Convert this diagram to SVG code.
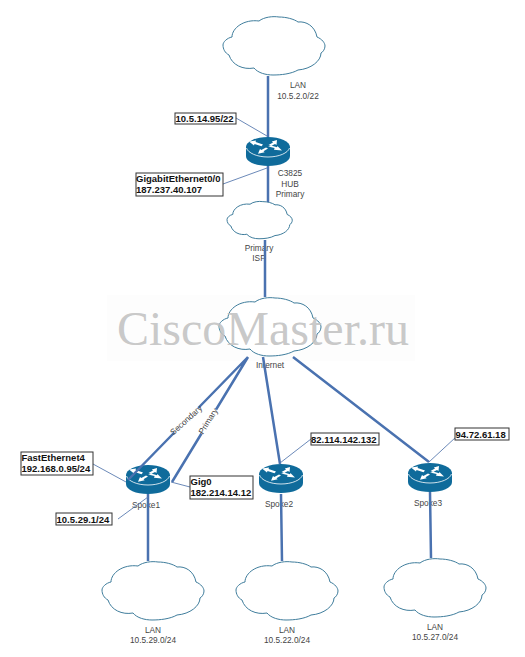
<svg xmlns="http://www.w3.org/2000/svg" width="525" height="657" viewBox="0 0 525 657">
<style>
text{font-family:"Liberation Sans",Arial,sans-serif}
.t{font-size:8.3px;fill:#444;text-anchor:middle}
.b{font-size:9.5px;font-weight:bold;fill:#111}
.box{fill:#fff;stroke:#333;stroke-width:1}
.thick{stroke:#4a72b0;stroke-width:2.5;fill:none}
.thin{stroke:#5a7cb0;stroke-width:.9;fill:none}
.cloud{fill:#fff;stroke:#3f7d9c;stroke-width:1;vector-effect:non-scaling-stroke}
</style>
<defs>
<path id="cl" class="cloud" d="M36 5C41 1 50 0 56 1C63 1 71 3 75 6C83 5 92 10 94 21C99 23 102 27 102 30C102 33 100 36 98 37C98 45 88 53 75 54C68 58 58 59 50 59C43 59 35 57 31 52C20 54 9 49 6 39C2 37 0 33 0 29C0 26 4 22 9 21C9 12 21 3 36 5Z"/>
<g id="rt">
<path d="M0 10V19C0 25 10 29 22 29S44 25 44 19V10Z" fill="#0f6b9b"/>
<ellipse cx="22" cy="10" rx="22" ry="10" fill="#0f6b9b"/>
<path d="M0.5 11C2 16 11 20 22 20S42 16 43.500 11" fill="none" stroke="#fff" stroke-width=".8"/>
<path d="M3 4.500L10 3.500L9.600 5L17 7.500L15.500 9.200L8.500 7L8 8.500Z M31 3L30.500 8L29 7L25 9L22.500 8L27 5.500L25.800 4.600Z M36 13.500L28 12.800L28.600 11L22 9.500L26 8.800L31 10.200L31.400 9Z M12 16.800L14 12L15.300 13L20 10.500L22 11.500L17.500 14.300L18.700 15.300Z" fill="#fff"/>
</g>
</defs>
<rect width="525" height="657" fill="#fff"/>
<rect x="107" y="295" width="308" height="66" fill="#fdfdfd"/>
<g id="cloud-lan-hub"><use href="#cl" transform="translate(223 16)"/><text class="t" x="298" y="88">LAN</text><text class="t" x="298" y="99">10.5.2.0/22</text></g>
<g id="hub"><use href="#rt" transform="translate(246 137)"/><text class="t" x="290" y="176">C3825</text><text class="t" x="290" y="187">HUB</text><text class="t" x="290" y="197">Primary</text></g>
<g id="cloud-isp"><use href="#cl" transform="translate(227 201) scale(.64)"/><text class="t" x="259" y="251">Primary</text><text class="t" x="259" y="261">ISP</text></g>
<g id="cloud-internet"><use href="#cl" transform="translate(219 297)"/><text class="t" x="270" y="368">Internet</text></g>
<g id="spoke1"><use href="#rt" transform="translate(126 465)"/><text class="t" x="146" y="508">Spoke1</text></g>
<g id="spoke2"><use href="#rt" transform="translate(259 464)"/><text class="t" x="279" y="507">Spoke2</text></g>
<g id="spoke3"><use href="#rt" transform="translate(408 463)"/><text class="t" x="428" y="506">Spoke3</text></g>
<g id="cloud-lan1"><use href="#cl" transform="translate(102 561)"/><text class="t" x="153" y="633">LAN</text><text class="t" x="153" y="643">10.5.29.0/24</text></g>
<g id="cloud-lan2"><use href="#cl" transform="translate(236 561)"/><text class="t" x="287" y="633">LAN</text><text class="t" x="287" y="643">10.5.22.0/24</text></g>
<g id="cloud-lan3"><use href="#cl" transform="translate(384 558)"/><text class="t" x="435" y="630">LAN</text><text class="t" x="435" y="640">10.5.27.0/24</text></g>
<g id="connectors">
<path class="thick" d="M268 76V137M268 166V202M265 240V297M248 357L128 480M248 357L172 482M263 357L280 464M293 357L429 462M148 494V561M281 494L282 561M430 492L431 558"/>
<path class="thin" d="M236 118L267 136M223 184L267 168M93 464L126 482M171 482L190 487M118 519L148 497M311 439L280 463M456 437L429 462"/>
</g>
<g id="label-secondary" transform="translate(186 420) rotate(-42)"><rect x="-17" y="-4" width="34" height="8" fill="#fff"/><text class="t" y="3">Secondary</text></g>
<g id="label-primary" transform="translate(208 421) rotate(-58)"><rect x="-14" y="-4" width="28" height="8" fill="#fff"/><text class="t" y="3">Primary</text></g>
<g id="addr1"><rect class="box" x="175" y="113" width="61" height="11"/><text class="b" x="175.500" y="122">10.5.14.95/22</text></g>
<g id="addr2"><rect class="box" x="136" y="173" width="87" height="23"/><text class="b" x="136" y="182">GigabitEthernet0/0</text><text class="b" x="136" y="193">187.237.40.107</text></g>
<g id="addr3"><rect class="box" x="21" y="452" width="72" height="23"/><text class="b" x="21.500" y="461">FastEthernet4</text><text class="b" x="21.500" y="472">192.168.0.95/24</text></g>
<g id="addr4"><rect class="box" x="190" y="476" width="63" height="23"/><text class="b" x="190.500" y="485">Gig0</text><text class="b" x="190.500" y="496">182.214.14.12</text></g>
<g id="addr5"><rect class="box" x="56" y="513" width="56" height="12"/><text class="b" x="56.500" y="522.500">10.5.29.1/24</text></g>
<g id="addr6"><rect class="box" x="311" y="433" width="68" height="12"/><text class="b" x="311" y="442.500">82.114.142.132</text></g>
<g id="addr7"><rect class="box" x="455" y="428" width="54" height="12"/><text class="b" x="455.500" y="437.500">94.72.61.18</text></g>
<text x="117" y="345" font-size="48" fill="#c2c2c2" fill-opacity=".9" style="font-family:'Liberation Serif','Times New Roman',serif">CiscoMaster.ru</text>
</svg>
